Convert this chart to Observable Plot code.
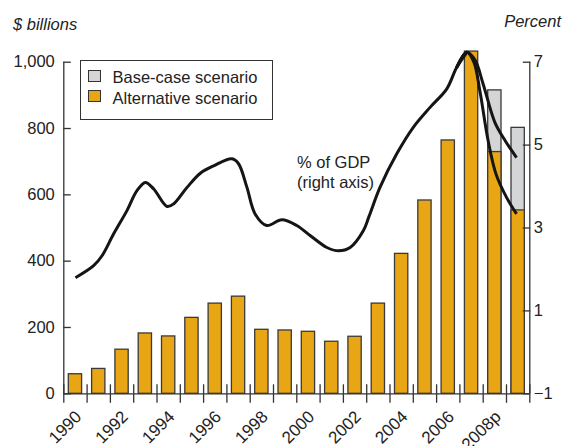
<!DOCTYPE html>
<html>
<head>
<meta charset="utf-8">
<script src="https://cdn.jsdelivr.net/npm/d3@7"></script>
<script src="https://cdn.jsdelivr.net/npm/@observablehq/plot@0.6"></script>
<style>
  html, body { margin: 0; padding: 0; background: #fff; }
  #wrap { position: relative; width: 563px; height: 446px; font-family: "Liberation Sans", Arial, sans-serif; color: #222; overflow: hidden; }
  #wrap svg { position: absolute; left: 0; top: 0; }
  .abs { position: absolute; white-space: nowrap; line-height: 1; }
  .title { font-size: 16.5px; font-style: italic; }
  .lbl { font-size: 16.5px; }
  .box { position: absolute; box-sizing: border-box; border: 1.4px solid #333; background: #fff; }
  .sw { position: absolute; box-sizing: border-box; border: 1.2px solid #333; width: 12.5px; height: 12.5px; }
</style>
</head>
<body>
<div id="wrap">
  <div class="abs title" style="left:13px; top:15.5px;">$ billions</div>
  <div class="abs title" style="right:2px; top:12.5px;">Percent</div>
  <div class="box" style="left:80px; top:60px; width:193px; height:60px;"></div>
  <div class="sw" style="left:88px; top:69.5px; background:#D4D5D7;"></div>
  <div class="sw" style="left:88px; top:89.5px; background:#E8A514;"></div>
  <div class="abs lbl" style="left:112.5px; top:69px;">Base-case scenario</div>
  <div class="abs lbl" style="left:112.5px; top:90px;">Alternative scenario</div>
  <div class="abs lbl" style="left:297px; top:154px;">% of GDP</div>
  <div class="abs lbl" style="left:297px; top:174px;">(right axis)</div>
</div>
<script>
// ---- data ----
const years = [1990,1991,1992,1993,1994,1995,1996,1997,1998,1999,2000,2001,2002,2003,2004,2005,2006,2007,2008,2009];
const altValues = [59,75,133,182,173,229,272,293,193,191,187,157,172,272,422,583,764,1032,729,553];
const baseYears = [2008,2009];
const baseValues = [915,802];

const labelYears = [1990,1992,1994,1996,1998,2000,2002,2004,2006,2008];
const labelText = ["1990","1992","1994","1996","1998","2000","2002","2004","2006","2008p"];

const leftTicks = [0,200,400,600,800,1000];
const rightTicks = [-1,1,3,5,7];

// % of GDP (right axis)
const histYears = [1990.0,1990.78,1991.14,1991.64,1992.21,1992.64,1993.0,1993.36,1993.93,1994.21,1994.79,1995.36,1995.93,1996.72,1997.0,1997.36,1997.71,1998.21,1998.86,1999.5,2000.07,2000.79,2001.29,2001.79,2002.36,2002.6,2003.07,2003.79,2004.5,2005.22,2005.93,2006.36,2006.8];
const histPct = [1.80,2.09,2.33,2.86,3.42,3.90,4.10,3.94,3.52,3.58,3.98,4.32,4.50,4.67,4.55,3.98,3.34,3.06,3.20,3.06,2.82,2.53,2.45,2.53,2.94,3.28,3.98,4.79,5.43,5.91,6.35,6.87,7.24];
const basePctYears = [2006.36,2006.8,2007.15,2007.5,2008.0,2008.45,2008.93];
const basePct = [6.87,7.24,7.05,6.47,5.55,5.10,4.70];
const altPctYears = [2006.36,2006.8,2007.1,2007.36,2007.71,2008.05,2008.5,2008.93];
const altPct = [6.87,7.24,7.0,6.3,5.11,4.3,3.74,3.34];

// ---- build tables ----
const altRows = years.map((year, i) => ({year, value: altValues[i]}));
const baseRows = baseYears.map((year, i) => ({year, value: baseValues[i]}));
const toRows = (xs, ps) => xs.map((year, i) => ({year, p: ps[i]}));
const hist = toRows(histYears, histPct);
const baseLine = toRows(basePctYears, basePct);
const altLine = toRows(altPctYears, altPct);

const pctToLeft = p => (p + 1) * 125; // right axis −1..7 ↔ left 0..1000
const xDomain = [years[0] - 0.5, years[years.length - 1] + 0.5];
const edges = d3.range(xDomain[0], xDomain[1] + 0.01, 1);

const ORANGE = "#E8A514", GRAY = "#D4D5D7", INK = "#333";
const barOpts = {x1: d => d.year - 0.5, x2: d => d.year + 0.5, y1: 0, y2: "value", insetLeft: 5, insetRight: 5, stroke: "#3a3a3a", strokeWidth: 1.3};
const lineOpts = {x: "year", y: d => pctToLeft(d.p), curve: "catmull-rom", stroke: "#151515", strokeWidth: 3, strokeLinecap: "butt"};

const chart = Plot.plot({
  width: 563,
  height: 446,
  marginLeft: 63.3,
  marginRight: 33.7,
  marginTop: 61.7,
  marginBottom: 52.7,
  style: {fontFamily: "'Liberation Sans', Arial, sans-serif", fontSize: "16.5px", color: "#222", background: "transparent", overflow: "visible"},
  x: {type: "linear", domain: xDomain, label: null},
  y: {domain: [0, 1000], label: null},
  marks: [
    Plot.rect(baseRows, {...barOpts, fill: GRAY}),
    Plot.rect(altRows, {...barOpts, fill: ORANGE}),
    Plot.line(hist, lineOpts),
    Plot.line(baseLine, lineOpts),
    Plot.line(altLine, lineOpts),
    Plot.ruleX(xDomain, {y1: 0, y2: 1000, stroke: INK, strokeWidth: 1.3}),
    Plot.ruleY([0], {stroke: INK, strokeWidth: 1.3}),
    Plot.axisX(edges, {tickSize: 9.5, tickFormat: () => "", label: null, stroke: INK, strokeWidth: 1.3}),
    Plot.axisX(edges, {tickSize: -9, tickFormat: () => "", label: null, stroke: INK, strokeWidth: 1.3}),
    Plot.axisY(leftTicks, {anchor: "left", tickSize: -7.5, tickPadding: 16.5, tickFormat: d3.format(","), label: null, stroke: INK, strokeWidth: 1.3}),
    Plot.axisY(rightTicks.map(pctToLeft), {anchor: "right", tickSize: -7.5, tickPadding: 11.5, label: null,
      tickFormat: v => { const p = Math.round(v / 125 - 1); return p < 0 ? "\u2212" + Math.abs(p) : String(p); },
      stroke: INK, strokeWidth: 1.3}),
    Plot.text(labelYears, {x: d => d, frameAnchor: "bottom", text: (d, i) => labelText[i], rotate: -45, textAnchor: "end", lineAnchor: "bottom", dx: 7, dy: 24, fontSize: 17})
  ]
});
document.getElementById("wrap").prepend(chart);
</script>
</body>
</html>
